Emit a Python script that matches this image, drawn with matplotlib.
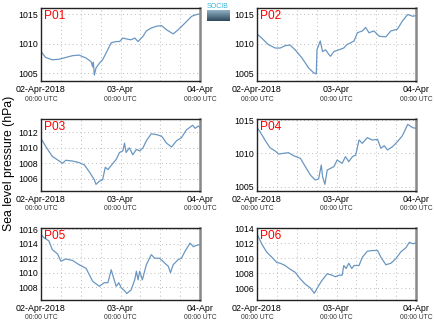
import numpy as np
import pandas as pd
import matplotlib
matplotlib.use("Agg")
import matplotlib.pyplot as plt
import matplotlib.dates as mdates

plt.rcParams["font.family"] = ["Liberation Sans", "DejaVu Sans"]

# hours since 02-Apr-2018 00:00 UTC and pressure (hPa)
p01_h = [0, 1.4, 3.4, 5.5, 7.5, 9.5, 11.5, 13.6, 15.1, 15.6, 15.8, 16.1, 16.6, 17.6, 18.6, 19.6,
         21.2, 22.7, 23.7, 24.7, 26.2, 27.2, 28.3, 29.3, 30.8, 31.8, 33.3, 34.8, 36.4, 37.9, 39.9,
         41.4, 43.4, 45.5, 47.0, 48]
p01_v = [1008.7, 1007.7, 1007.3, 1007.4, 1007.7, 1008.0, 1008.1, 1007.6, 1007.0, 1006.1, 1006.9,
         1004.7, 1005.9, 1006.7, 1007.3, 1008.4, 1010.2, 1010.4, 1010.4, 1011.0, 1010.8, 1010.7,
         1011.0, 1010.4, 1011.3, 1012.2, 1012.7, 1013.0, 1013.1, 1012.4, 1011.7, 1012.4, 1013.5,
         1014.7, 1015.0, 1015.1]

p02_h = [0, 1.4, 3.4, 5.5, 7.0, 8.5, 10.0, 11.5, 13.6, 15.6, 17.1, 17.9, 18.1, 19.1, 19.8, 20.7,
         21.7, 22.2, 23.2, 24.7, 26.2, 27.2, 28.3, 29.3, 30.3, 31.8, 32.8, 33.8, 35.3, 36.9, 38.9,
         40.4, 42.4, 43.9, 45.5, 47.0, 48]
p02_v = [1011.7, 1011.0, 1009.9, 1009.3, 1009.3, 1009.7, 1009.8, 1009.0, 1007.6, 1005.9, 1005.1,
         1004.9, 1009.0, 1010.5, 1008.7, 1009.0, 1008.2, 1007.9, 1008.7, 1009.0, 1009.3, 1009.9,
         1010.2, 1010.5, 1011.9, 1012.2, 1012.8, 1011.9, 1012.2, 1011.3, 1011.2, 1012.2, 1012.5,
         1013.9, 1015.0, 1014.7, 1014.8]

p03_h = [0, 1.4, 3.4, 5.5, 6.5, 7.5, 9.5, 11.5, 13.1, 14.6, 16.1, 16.6, 17.6, 18.6, 19.4, 20.2,
         21.7, 22.7, 23.7, 24.7, 25.2, 25.7, 26.7, 27.7, 28.8, 29.8, 30.8, 31.8, 33.3, 34.8, 36.4,
         37.9, 39.4, 40.9, 42.4, 43.9, 45.8, 46.5, 47.5, 48]
p03_v = [1011.2, 1010.2, 1008.9, 1008.3, 1008.0, 1008.4, 1008.3, 1008.1, 1007.8, 1006.9, 1005.9,
         1005.3, 1005.7, 1005.9, 1007.5, 1007.2, 1008.0, 1008.5, 1009.4, 1009.6, 1010.6, 1009.4,
         1010.0, 1009.1, 1009.8, 1009.6, 1010.0, 1010.9, 1011.8, 1011.7, 1011.5, 1010.6, 1010.1,
         1010.9, 1011.3, 1012.3, 1012.9, 1012.5, 1012.8, 1012.6]

p04_h = [0, 0.9, 2.4, 3.9, 5.5, 6.5, 8.0, 9.5, 11.0, 13.1, 14.6, 16.1, 17.6, 18.6, 19.4, 19.8,
         20.5, 21.2, 22.2, 23.2, 24.2, 25.7, 26.7, 27.7, 28.8, 29.8, 30.8, 31.8, 33.3, 34.8, 36.4,
         37.4, 38.4, 39.4, 40.9, 42.4, 43.9, 45.5, 47.0, 48]
p04_v = [1013.85, 1013.25, 1012.0, 1010.85, 1010.35, 1009.9, 1010.0, 1010.1, 1009.65, 1009.25,
         1008.0, 1006.75, 1006.0, 1006.15, 1008.25, 1006.5, 1005.35, 1007.5, 1007.75, 1008.0,
         1009.0, 1008.5, 1009.5, 1008.75, 1009.5, 1009.75, 1012.0, 1011.5, 1012.35, 1012.0,
         1012.1, 1010.75, 1011.15, 1010.5, 1011.0, 1011.75, 1012.65, 1014.35, 1013.85, 1013.75]

p05_h = [0, 0.9, 2.4, 3.4, 5.0, 6.0, 7.5, 9.5, 11.5, 13.6, 15.6, 17.6, 19.1, 20.2, 21.2, 21.9,
         22.7, 23.5, 24.2, 25.2, 25.9, 27.2, 28.3, 28.8, 29.3, 29.8, 30.6, 31.8, 33.3, 34.3, 35.8,
         37.4, 38.4, 39.1, 39.9, 41.4, 42.4, 43.4, 45.0, 46.0, 47.0, 48]
p05_v = [1015.3, 1014.85, 1014.4, 1013.2, 1012.6, 1011.6, 1011.9, 1011.7, 1011.1, 1010.6, 1008.8,
         1008.1, 1008.6, 1008.6, 1010.4, 1009.3, 1008.1, 1008.6, 1007.9, 1007.5, 1007.1, 1007.6,
         1009.0, 1010.2, 1009.0, 1010.2, 1009.0, 1011.1, 1012.5, 1012.0, 1012.0, 1011.3, 1010.9,
         1010.0, 1011.1, 1011.8, 1012.0, 1012.9, 1014.1, 1013.6, 1013.8, 1013.9]

p06_h = [0, 1.4, 2.9, 4.5, 6.0, 7.0, 8.5, 10.0, 11.5, 13.1, 14.6, 16.1, 17.3, 18.6, 19.6, 21.2,
         22.7, 23.7, 24.7, 25.7, 26.2, 26.9, 27.7, 28.6, 29.3, 30.8, 31.8, 33.3, 34.8, 36.4, 37.4,
         38.9, 40.4, 41.9, 43.4, 45.0, 46.0, 47.0, 48]
p06_v = [1013.2, 1011.9, 1010.8, 1010.1, 1009.4, 1009.3, 1009.0, 1008.5, 1008.1, 1007.2, 1006.5,
         1006.0, 1005.3, 1006.3, 1007.0, 1007.9, 1007.7, 1007.5, 1007.7, 1007.7, 1009.0, 1008.6,
         1009.3, 1008.6, 1009.0, 1009.0, 1010.1, 1010.9, 1011.0, 1011.0, 1010.1, 1009.1, 1009.3,
         1009.9, 1010.8, 1011.4, 1012.1, 1011.9, 1012.0]

names = ["P01", "P02", "P03", "P04", "P05", "P06"]
hours = [p01_h, p02_h, p03_h, p04_h, p05_h, p06_h]
values = [p01_v, p02_v, p03_v, p04_v, p05_v, p06_v]
ylims = [(1003.7, 1016.1), (1003.7, 1016.1), (1004.45, 1013.7),
         (1004.35, 1015.15), (1006.2, 1016.2), (1004.4, 1014.0)]
yticks = [[1005, 1010, 1015], [1005, 1010, 1015], [1006, 1008, 1010, 1012],
          [1005, 1010, 1015], [1008, 1010, 1012, 1014, 1016], [1006, 1008, 1010, 1012, 1014]]
xtick_top = ["02-Apr-2018", "03-Apr", "04-Apr"]
xtick_bottom = ["00:00 UTC", "00:00 UTC", "00:00 UTC"]

t0 = pd.Timestamp("2018-04-02 00:00")
tick_times = [t0 + pd.Timedelta(days=d) for d in range(3)]

W, H = 435, 327
fig = plt.figure(figsize=(W / 100, H / 100), dpi=100)

# axes boxes in pixels: (left, top, right, bottom)
lefts = [41, 257]
rows = [(8, 81), (119, 191), (228, 300)]

line_col = "#6a97c2"

for i, name in enumerate(names):
    r, c = divmod(i, 2)
    l = lefts[c]
    top, bot = rows[r]
    ax = fig.add_axes([l / W, 1 - bot / H, 159 / W, (bot - top) / H])
    t = [t0 + pd.Timedelta(hours=h) for h in hours[i]]
    ax.plot(t, values[i], color=line_col, lw=0.9)
    ax.set_xlim(tick_times[0], tick_times[-1])
    ax.set_ylim(*ylims[i])
    ax.set_yticks(yticks[i])
    ax.set_yticklabels([str(v) for v in yticks[i]], fontsize=6.3)

    ax.xaxis.set_major_locator(mdates.DayLocator())
    ax.xaxis.set_minor_locator(mdates.HourLocator(byhour=[6, 12, 18]))
    ax.set_xticklabels([])
    trans = ax.get_xaxis_transform()
    for tt, a, b in zip(tick_times, xtick_top, xtick_bottom):
        x = mdates.date2num(tt)
        ax.text(x, -0.06, a, transform=trans, ha="center", va="top", fontsize=6.4)
        ax.text(x, -0.2, b, transform=trans, ha="center", va="top", fontsize=4.9,
                color="#333333")

    ax.grid(True, which="both", axis="x", ls=(0, (1, 3)), color="#bbbbbb", lw=0.7)
    ax.grid(True, which="major", axis="y", ls=(0, (1, 3)), color="#bbbbbb", lw=0.7)
    ax.tick_params(axis="both", which="both", length=0, pad=2)
    for s in ["left", "bottom", "top"]:
        ax.spines[s].set_linewidth(1.0)
        ax.spines[s].set_color("#222222")
    ax.spines["right"].set_linewidth(1.8)
    ax.spines["right"].set_color("#888888")

    ax.text(0.02, 0.97, name, transform=ax.transAxes, ha="left", va="top",
            fontsize=8.6, color="red")

fig.text(9 / W, 0.5, "Sea level pressure (hPa)", rotation=90, ha="center", va="center",
         fontsize=8.8)

# small logo at the top
lax = fig.add_axes([207 / W, 1 - 21 / H, 23 / W, 11 / H])
grad = np.linspace(0, 1, 20).reshape(-1, 1)
lax.imshow(grad, aspect="auto", cmap=matplotlib.colors.LinearSegmentedColormap.from_list(
    "logo", ["#8fb0c4", "#2f4a5c"]))
lax.axis("off")
fig.text(218 / W, 1 - 6 / H, "SOCIB", ha="center", va="center", fontsize=5, color="#38b5d8")

fig.savefig("out.png", dpi=100)
